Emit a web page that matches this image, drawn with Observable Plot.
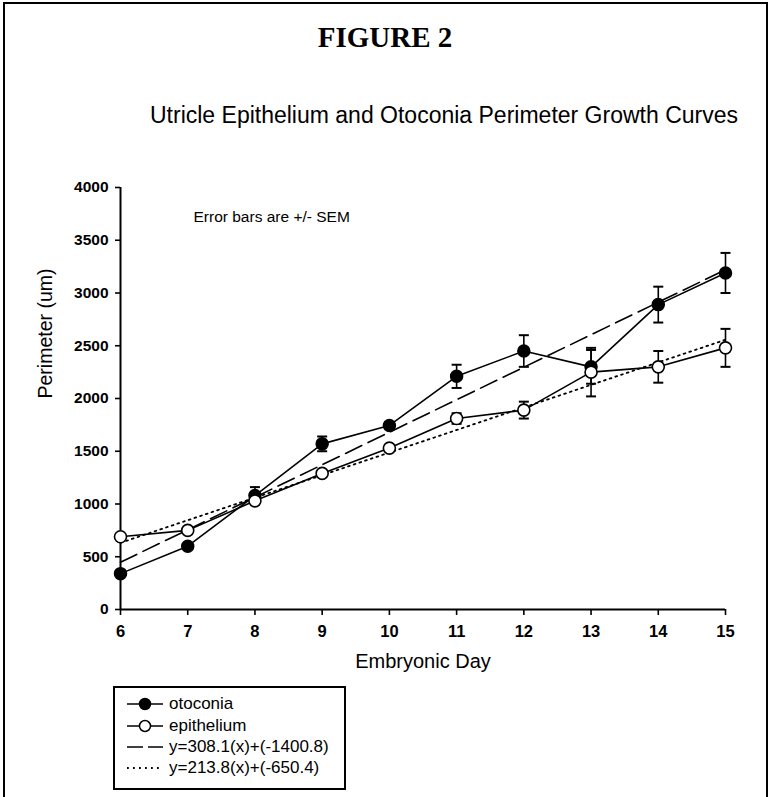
<!DOCTYPE html>
<html>
<head>
<meta charset="utf-8">
<script src="https://cdn.jsdelivr.net/npm/d3@7"></script>
<script src="https://cdn.jsdelivr.net/npm/@observablehq/plot@0.6"></script>
<style>
  html, body { margin: 0; padding: 0; background: #fff; }
  #page { position: relative; width: 770px; height: 797px; overflow: hidden; font-family: "Liberation Sans", Arial, sans-serif; }
  #frame { position: absolute; left: 3px; top: 2px; width: 761px; height: 800px; border-left: 2px solid #000; border-top: 2px solid #000; border-right: 2px solid #000; }
  #fig { position: absolute; left: 0; width: 770px; top: 21px; text-align: center; font-family: "Liberation Serif", "Times New Roman", serif; font-weight: bold; font-size: 29px; }
  #sub { position: absolute; left: 94px; width: 700px; top: 102px; text-align: center; font-size: 23px; }
  #chart { position: absolute; left: 0; top: 0; }
  #legend { position: absolute; left: 113px; top: 686px; width: 229px; height: 100px; border: 2px solid #000; background: #fff; font-size: 17px; }
  .row { position: absolute; left: 10px; height: 20px; display: flex; align-items: center; }
  .row svg { margin-right: 4px; }
</style>
</head>
<body>
<div id="page">
  <div id="frame"></div>
  <div id="fig">FIGURE 2</div>
  <div id="sub">Utricle Epithelium and Otoconia Perimeter Growth Curves</div>
  <div id="chart"></div>
  <div id="legend"></div>
</div>
<script>
// ---- data ----
const days = [6, 7, 8, 9, 10, 11, 12, 13, 14, 15];
const otoconia = [340, 600, 1080, 1570, 1745, 2210, 2450, 2300, 2890, 3190];
const otoconiaSEM = [20, 25, 80, 70, 30, 110, 150, 160, 170, 190];
const epithelium = [690, 750, 1030, 1290, 1530, 1810, 1890, 2250, 2300, 2480];
const epitheliumSEM = [20, 20, 25, 30, 30, 50, 80, 230, 150, 180];
const fitOtoconia = {slope: 308.1, intercept: -1400.8};
const fitEpithelium = {slope: 213.8, intercept: -650.4};
const yTicks = [0, 500, 1000, 1500, 2000, 2500, 3000, 3500, 4000];
const xTicks = [6, 7, 8, 9, 10, 11, 12, 13, 14, 15];
const legendLabels = ["otoconia", "epithelium", "y=308.1(x)+(-1400.8)", "y=213.8(x)+(-650.4)"];

const oto = days.map((d, i) => ({day: d, v: otoconia[i], e: otoconiaSEM[i]}));
const epi = days.map((d, i) => ({day: d, v: epithelium[i], e: epitheliumSEM[i]}));
const xDom = [days[0], days[days.length - 1]];
const fitLine = f => xDom.map(x => ({day: x, v: f.slope * x + f.intercept}));

const cap = {draw(ctx, size) { ctx.moveTo(-5, 0); ctx.lineTo(5, 0); }};
const errMarks = (data) => [
  Plot.ruleX(data, {x: "day", y1: d => d.v - d.e, y2: d => d.v + d.e, stroke: "#000", strokeWidth: 1.6}),
  Plot.dot(data, {x: "day", y: d => d.v + d.e, symbol: cap, stroke: "#000", strokeWidth: 2, r: 5}),
  Plot.dot(data, {x: "day", y: d => d.v - d.e, symbol: cap, stroke: "#000", strokeWidth: 2, r: 5})
];

const chart = Plot.plot({
  width: 770,
  height: 700,
  marginLeft: 120,
  marginRight: 45,
  marginTop: 187,
  marginBottom: 91,
  style: {fontFamily: "'Liberation Sans', Arial, sans-serif", background: "transparent", overflow: "visible"},
  x: {domain: xDom},
  y: {domain: [0, 4000]},
  marks: [
    Plot.axisY({ticks: yTicks, tickFormat: d => String(d), tickSize: 5, tickPadding: 7, label: null, fontSize: 15.5, fontWeight: "bold", strokeWidth: 1.6}),
    Plot.axisX({ticks: xTicks, tickFormat: d => String(d), tickSize: 6, tickPadding: 10, label: null, fontSize: 16.5, fontWeight: "bold", strokeWidth: 1.6}),
    Plot.ruleX([xDom[0]], {stroke: "#000", strokeWidth: 2}),
    Plot.ruleY([0], {stroke: "#000", strokeWidth: 2}),
    Plot.text(["Perimeter (um)"], {frameAnchor: "left", dx: -75, rotate: -90, fontSize: 19.5}),
    Plot.text(["Embryonic Day"], {frameAnchor: "bottom", dy: 58, fontSize: 20}),
    Plot.text(["Error bars are +/- SEM"], {frameAnchor: "top-left", dx: 73, dy: 23, textAnchor: "start", fontSize: 15.5}),
    Plot.line(fitLine(fitOtoconia), {x: "day", y: "v", stroke: "#000", strokeWidth: 1.6, strokeDasharray: "18,7"}),
    Plot.line(fitLine(fitEpithelium), {x: "day", y: "v", stroke: "#000", strokeWidth: 1.8, strokeDasharray: "1.8,4.2"}),
    Plot.line(oto, {x: "day", y: "v", stroke: "#000", strokeWidth: 1.6}),
    Plot.line(epi, {x: "day", y: "v", stroke: "#000", strokeWidth: 1.6}),
    ...errMarks(oto),
    ...errMarks(epi),
    Plot.dot(oto, {x: "day", y: "v", r: 6, fill: "#000", stroke: "#000"}),
    Plot.dot(epi, {x: "day", y: "v", r: 6, fill: "#fff", stroke: "#000", strokeWidth: 1.6})
  ]
});
document.getElementById("chart").appendChild(chart);

// legend
const leg = document.getElementById("legend");
const swatch = (i) => {
  const s = d3.create("svg").attr("width", 40).attr("height", 14);
  if (i < 2) {
    s.append("line").attr("x1", 2).attr("x2", 38).attr("y1", 7).attr("y2", 7).attr("stroke", "#000").attr("stroke-width", 1.6);
    s.append("circle").attr("cx", 20).attr("cy", 7).attr("r", 5.5).attr("fill", i === 0 ? "#000" : "#fff").attr("stroke", "#000").attr("stroke-width", 1.5);
  } else {
    s.append("line").attr("x1", 2).attr("x2", 38).attr("y1", 7).attr("y2", 7).attr("stroke", "#000")
      .attr("stroke-width", i === 2 ? 1.6 : 1.8).attr("stroke-dasharray", i === 2 ? "16,5" : "1.8,4.2");
  }
  return s.node();
};
const rowTops = [6, 28, 49, 70];
legendLabels.forEach((t, i) => {
  const row = document.createElement("div");
  row.className = "row";
  row.style.top = rowTops[i] + "px";
  row.appendChild(swatch(i));
  const span = document.createElement("span");
  span.textContent = t;
  row.appendChild(span);
  leg.appendChild(row);
});
</script>
</body>
</html>
